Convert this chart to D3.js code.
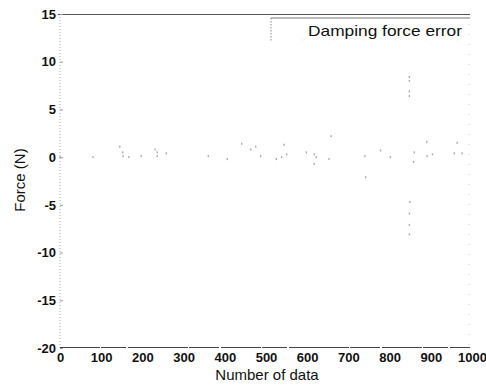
<!DOCTYPE html>
<html>
<head>
<meta charset="utf-8">
<script src="https://cdn.jsdelivr.net/npm/d3@7"></script>
<style>
  body { margin: 0; background: #fff; }
  text { font-family: "Liberation Sans", Arial, sans-serif; fill: #111; }
</style>
</head>
<body>
<svg id="chart" width="486" height="387"></svg>
<script>
// data (number of data, force error in N)
var sampleIdx = [0, 80, 145, 152, 153, 167, 197, 231, 236, 236, 258,
                 360, 406, 441, 463, 475, 487, 525, 538, 544, 550, 598, 617, 622, 617, 653, 658,
                 740, 742, 778, 802, 848, 848, 848, 848, 849, 848, 848, 848,
                 858, 860, 890, 891, 904, 957, 964, 976];
var forceErr  = [0.0, 0.0, 1.1, 0.5, 0.1, 0.0, 0.1, 0.8, 0.5, 0.1, 0.4,
                 0.1, -0.2, 1.4, 0.8, 1.1, 0.1, -0.2, 0.0, 1.3, 0.3, 0.5, 0.3, 0.0, -0.7, -0.2, 2.2,
                 0.1, -2.1, 0.7, 0.0, 8.4, 8.0, 6.9, 6.4, -4.7, -5.9, -7.1, -8.1,
                 -0.5, 0.5, 1.6, 0.1, 0.3, 0.4, 1.5, 0.4];
var xTicks = [0, 100, 200, 300, 400, 500, 600, 700, 800, 900, 1000];
var yTicks = [15, 10, 5, 0, -5, -10, -15, -20];
var legendLabel = "Damping force error";

var svg = d3.select("#chart");

var x = d3.scaleLinear().domain([0, 1000]).range([60, 472]);
var y = d3.scaleLinear().domain([-20, 15]).range([348, 14]);

// plain labels with ascii hyphen, like the original
function plainLabel(d) { return String(d); }

// frame: faint dotted sides, darker top and bottom (as in the scan)
svg.append("line")
	.attr("x1", x(0)).attr("x2", x(0))
	.attr("y1", y(15)).attr("y2", y(-20))
	.attr("stroke", "#a8a8a8").attr("stroke-width", 1)
	.attr("stroke-dasharray", "1,2");

svg.append("line")
	.attr("x1", 469).attr("x2", 469)
	.attr("y1", y(15)).attr("y2", y(-20))
	.attr("stroke", "#cfcfcf").attr("stroke-width", 1)
	.attr("stroke-dasharray", "1,9");

svg.append("line")
	.attr("x1", x(0) - 2).attr("x2", 470)
	.attr("y1", y(15) + 0.5).attr("y2", y(15) + 0.5)
	.attr("stroke", "#555").attr("stroke-width", 1.2);

svg.append("line")
	.attr("x1", x(0)).attr("x2", 470)
	.attr("y1", y(-20) - 0.5).attr("y2", y(-20) - 0.5)
	.attr("stroke", "#444").attr("stroke-width", 1.2)
	.attr("stroke-dasharray", "40,1,25,2,60,1,30,2");

// y axis ticks and labels
var yAxis = d3.axisLeft(y).tickValues(yTicks).tickFormat(plainLabel).tickSize(-3).tickPadding(4);
var gy = svg.append("g")
	.attr("transform", "translate(" + x(0) + ",0)")
	.call(yAxis);
gy.select(".domain").remove();
gy.selectAll(".tick line").attr("stroke", "#999");
gy.selectAll(".tick text")
	.attr("font-size", 13)
	.attr("font-weight", "bold")
	.style("font-family", "Liberation Sans, Arial, sans-serif")
	.attr("fill", "#111");

// x axis labels
var xAxis = d3.axisBottom(x).tickValues(xTicks).tickFormat(plainLabel).tickSize(0).tickPadding(5);
var gx = svg.append("g")
	.attr("transform", "translate(0," + y(-20) + ")")
	.call(xAxis);
gx.select(".domain").remove();
gx.selectAll(".tick text")
	.attr("font-size", 13)
	.attr("font-weight", "bold")
	.style("font-family", "Liberation Sans, Arial, sans-serif")
	.attr("fill", "#111");

// axis titles
svg.append("text")
	.attr("x", 267).attr("y", 380)
	.attr("text-anchor", "middle")
	.attr("font-size", 15)
	.text("Number of data");

svg.append("text")
	.attr("transform", "translate(25,180) rotate(-90)")
	.attr("text-anchor", "middle")
	.attr("font-size", 15)
	.text("Force (N)");

// the error samples, faint grey specks
svg.append("g").selectAll("rect")
	.data(sampleIdx)
	.enter().append("rect")
	.attr("x", function(d) { return x(d) - 0.7; })
	.attr("y", function(d, i) { return y(forceErr[i]) - 1; })
	.attr("width", 1.4)
	.attr("height", 2)
	.attr("fill", "#aaa");

// legend box (only top and left edge survive in the scan)
svg.append("line")
	.attr("x1", 271).attr("x2", 470)
	.attr("y1", 18).attr("y2", 18)
	.attr("stroke", "#777").attr("stroke-width", 1);
svg.append("line")
	.attr("x1", 271).attr("x2", 271)
	.attr("y1", 18).attr("y2", 41)
	.attr("stroke", "#888").attr("stroke-width", 1)
	.attr("stroke-dasharray", "1.5,1.5");
svg.append("line")
	.attr("x1", 271).attr("x2", 470)
	.attr("y1", 40).attr("y2", 40)
	.attr("stroke", "#ddd").attr("stroke-width", 1)
	.attr("stroke-dasharray", "1,30");

svg.append("text")
	.attr("x", 308).attr("y", 36)
	.attr("font-size", 15)
	.attr("textLength", 154)
	.attr("lengthAdjust", "spacingAndGlyphs")
	.text(legendLabel);
</script>
</body>
</html>
